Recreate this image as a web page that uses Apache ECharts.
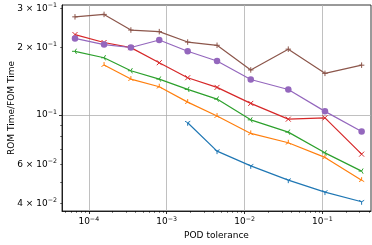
<!DOCTYPE html>
<html>
<head>
<meta charset="UTF-8">
<script src="https://cdn.jsdelivr.net/npm/echarts@6/dist/echarts.min.js"></script>
<style>html,body{margin:0;padding:0;background:#fff}</style>
</head>
<body>
<div id="main" style="width:372px;height:245px;"></div>
<script>
// POD tolerance (x) and ROM/FOM time ratio per curve
const tolerance = [6.65e-5, 1.57e-4, 3.47e-4, 8.03e-4, 1.86e-3, 4.43e-3, 1.20e-2, 3.64e-2, 0.1076, 0.318];
const blueVals   = [null, null, null, null, 0.0922, 0.0688, 0.0591, 0.0510, 0.0451, 0.0408];
const orangeVals = [null, 0.1672, 0.1447, 0.1337, 0.1141, 0.0988, 0.0826, 0.0750, 0.0645, 0.0510];
const greenVals  = [0.1927, 0.1803, 0.1577, 0.1447, 0.1301, 0.1177, 0.0950, 0.0837, 0.0676, 0.0560];
const redVals    = [0.229, 0.211, 0.2001, 0.1713, 0.1467, 0.1328, 0.1126, 0.0957, 0.0970, 0.0667];
const purpleVals = [0.220, 0.2066, 0.2004, 0.2165, 0.1927, 0.1743, 0.144, 0.1299, 0.1037, 0.0843];
const brownVals  = [0.275, 0.282, 0.240, 0.236, 0.212, 0.205, 0.159, 0.197, 0.1535, 0.167];

// ticks
const xMajor = [1e-4, 1e-3, 1e-2, 1e-1];
const xMinor = [];
for (let k = -5; k <= -1; k++) for (let m = 2; m <= 9; m++) xMinor.push(m * Math.pow(10, k));
const yMajor = [0.1];
const yMinor = [0.04, 0.05, 0.06, 0.07, 0.08, 0.09, 0.2, 0.3];
const yLabels = [0.04, 0.06, 0.1, 0.2, 0.3];

const xRange = [4.53e-5, 0.4196];
const yRange = [0.0371, 0.3107];

const lg = Math.log10;
const font = 'DejaVu Sans';

function sciLabel(v) {
  const r = Math.round(v * 1e6) / 1e6;
  const e = Math.floor(r + 1e-9);
  const m = Math.round(Math.pow(10, r - e));
  const exp = (e < 0 ? '\u2212' : '') + Math.abs(e);
  return (m === 1 ? '{b|10}' : '{b|' + m + ' \u00d7 10}') + '{s|' + exp + '}';
}
const rich = {
  b: { fontSize: 9, fontFamily: font, color: '#000', lineHeight: 12 },
  s: { fontSize: 6.3, fontFamily: font, color: '#000', padding: [0, 0, 6, 0], lineHeight: 12 }
};

function pts(vals) {
  const out = [];
  vals.forEach((v, i) => { if (v != null) out.push([lg(tolerance[i]), lg(v)]); });
  return out;
}

const triDown = 'path://M0,0L0,1M0,0L-0.866,-0.5M0,0L0.866,-0.5M0,-1';
const triUp = 'path://M0,0L0,-1M0,0L-0.866,0.5M0,0L0.866,0.5M0,1';
const triLeft = 'path://M0,0L-1,0M0,0L0.5,-0.866M0,0L0.5,0.866M1,0';
const cross = 'path://M-1,-1L1,1M-1,1L1,-1';
const plus = 'path://M0,-1L0,1M-1,0L1,0';

function line(vals, color, symbol, size) {
  const stroke = symbol !== 'circle';
  return {
    type: 'line', data: pts(vals), xAxisIndex: 0, yAxisIndex: 0,
    symbol: symbol, symbolSize: size, symbolKeepAspect: true, showSymbol: true,
    lineStyle: { color: color, width: 1.2 },
    itemStyle: stroke ? { color: color, borderColor: color, borderWidth: 1 } : { color: color, borderWidth: 0 },
    animation: false, silent: true
  };
}

const chart = echarts.init(document.getElementById('main'));
chart.setOption({
  animation: false,
  grid: { left: 62, right: 1, top: 5, bottom: 34, outerBoundsMode: 'none', containLabel: false,
    show: true, borderColor: '#000', borderWidth: 0.8 },
  xAxis: [
    {
      type: 'value', position: 'bottom', min: lg(xRange[0]), max: lg(xRange[1]),
      name: 'POD tolerance', nameLocation: 'middle', nameGap: 20, nameMoveOverlap: false,
      nameTextStyle: { fontFamily: font, fontSize: 9, color: '#000' },
      axisLine: { show: true, onZero: false, lineStyle: { color: '#000', width: 0.8 } },
      axisTick: { show: true, customValues: xMajor.map(lg), length: 3, lineStyle: { color: '#000', width: 0.8 } },
      axisLabel: { customValues: xMajor.map(lg), margin: 5, formatter: sciLabel, rich: rich },
      splitLine: { show: true, lineStyle: { color: '#b0b0b0', width: 0.8 } }
    },
    {
      type: 'value', position: 'bottom', min: lg(xRange[0]), max: lg(xRange[1]),
      axisLine: { show: false, onZero: false },
      axisTick: { show: true, customValues: xMinor.map(lg), length: 1.8, lineStyle: { color: '#000', width: 0.6 } },
      axisLabel: { show: false }, splitLine: { show: false }
    }
  ],
  yAxis: [
    {
      type: 'value', position: 'left', min: lg(yRange[0]), max: lg(yRange[1]),
      name: 'ROM Time/FOM Time', nameLocation: 'middle', nameGap: 46, nameMoveOverlap: false,
      nameTextStyle: { fontFamily: font, fontSize: 9, color: '#000' },
      axisLine: { show: true, onZero: false, lineStyle: { color: '#000', width: 0.8 } },
      axisTick: { show: true, customValues: yMajor.map(lg), length: 3, lineStyle: { color: '#000', width: 0.8 } },
      axisLabel: { customValues: yLabels.map(lg), margin: 5, formatter: sciLabel, rich: rich },
      splitLine: { show: true, lineStyle: { color: '#b0b0b0', width: 0.8 } }
    },
    {
      type: 'value', position: 'left', min: lg(yRange[0]), max: lg(yRange[1]),
      axisLine: { show: false, onZero: false },
      axisTick: { show: true, customValues: yMinor.map(lg), length: 1.8, lineStyle: { color: '#000', width: 0.6 } },
      axisLabel: { show: false }, splitLine: { show: false }
    }
  ],
  series: [
    line(blueVals, '#1f77b4', triDown, 6),
    line(orangeVals, '#ff7f0e', triUp, 6),
    line(greenVals, '#2ca02c', triLeft, 6),
    line(redVals, '#d62728', cross, 5),
    line(purpleVals, '#9467bd', 'circle', 6.5),
    line(brownVals, '#8c564b', plus, 5.5)
  ]
});
</script>
</body>
</html>
